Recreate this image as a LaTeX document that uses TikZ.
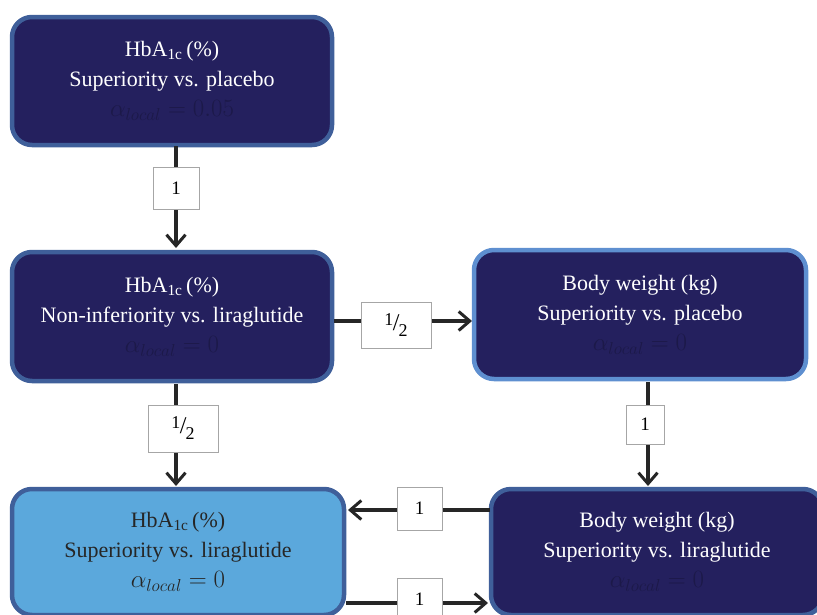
\documentclass[tikz,border=0pt]{standalone}
\usepackage{fontspec}
\setmainfont{Liberation Serif}
\usetikzlibrary{arrows.meta}
\definecolor{navy}{HTML}{24205E}
\definecolor{navytext}{HTML}{1C1949}
\definecolor{bordA}{HTML}{3F5F9A}
\definecolor{bordB}{HTML}{5E8FD0}
\definecolor{lightfill}{HTML}{5BA8DC}
\tikzset{
  hyp/.style={draw=bordA, line width=4.5pt, rounded corners=20pt, fill=navy, text=white,
    align=center, font=\fontsize{22}{30}\selectfont, inner sep=0pt},
  wbox/.style={draw=gray!70, line width=0.8pt, fill=white, font=\fontsize{19}{20}\selectfont, inner sep=0pt},
  conn/.style={line width=3.2pt, draw=black!85, -{Straight Barb[length=11pt,width=19pt,line width=3pt]}}
}
\newcommand{\hba}{HbA\textsubscript{1c}\,(\%)}
\newcommand{\alocal}[1]{{\fontsize{25}{30}\selectfont$\alpha_{local}=#1$}}
\newcommand{\half}{{\fontsize{18}{18}\selectfont\raisebox{4pt}{1}\kern-0.5pt\raisebox{-1pt}{\fontsize{24}{24}\selectfont/}\kern-1pt\raisebox{-7pt}{2}}}
\begin{document}
\begin{tikzpicture}[x=1pt,y=-1pt]
\useasboundingbox (0,0) rectangle (817,614);
\begin{scope}
\clip (0,0) rectangle (817,614);
\node[hyp, minimum width=320pt, minimum height=128pt] (b1) at (172,81)
  {\hba\\Superiority vs. placebo\\\textcolor{navytext}{\alocal{0.05}}};
\node[hyp, minimum width=320pt, minimum height=129pt] (b2) at (172,316.5)
  {\hba\\Non-inferiority vs. liraglutide\\\textcolor{navytext}{\alocal{0}}};
\node[hyp, draw=bordB, minimum width=332pt, minimum height=129pt] (b3) at (640,314.5)
  {Body weight (kg)\\Superiority vs. placebo\\\textcolor{navytext}{\alocal{0}}};
\node[hyp, fill=lightfill, text=black!85, minimum width=332pt, minimum height=126pt] (b4) at (178,552)
  {\hba\\Superiority vs. liraglutide\\\alocal{0}};
\node[hyp, minimum width=332pt, minimum height=126pt] (b5) at (657,552)
  {Body weight (kg)\\Superiority vs. liraglutide\\\textcolor{navytext}{\alocal{0}}};

% b1 -> b2
\coordinate (a1s) at (176,146);
\coordinate (a1e) at (176,248);
\draw[conn] (a1s) -- (a1e);
\node[wbox, minimum width=46pt, minimum height=42pt] (l1) at (176,188) {1};

% b2 -> b3
\coordinate (a2s) at (334,321);
\coordinate (a2e) at (472,321);
\draw[conn] (a2s) -- (a2e);
\node[wbox, minimum width=70pt, minimum height=46pt] (l2) at (396,325) {\half};

% b2 -> b4
\coordinate (a3s) at (176,384);
\coordinate (a3e) at (176,486);
\draw[conn] (a3s) -- (a3e);
\node[wbox, minimum width=70pt, minimum height=47pt] (l3) at (183,428.5) {\half};

% b3 -> b5
\coordinate (a4s) at (648,382);
\coordinate (a4e) at (648,486);
\draw[conn] (a4s) -- (a4e);
\node[wbox, minimum width=38pt, minimum height=39pt] (l4) at (645,424.5) {1};

% b5 -> b4
\coordinate (a5s) at (490,510);
\coordinate (a5e) at (348,510);
\draw[conn] (a5s) -- (a5e);
\node[wbox, minimum width=45pt, minimum height=43pt] (l5) at (419.5,508.5) {1};

% b4 -> b5
\coordinate (a6s) at (346,603);
\coordinate (a6e) at (488,603);
\draw[conn] (a6s) -- (a6e);
\node[wbox, minimum width=45pt, minimum height=43pt] (l6) at (419.5,599.5) {1};
\end{scope}
\end{tikzpicture}
\end{document}
